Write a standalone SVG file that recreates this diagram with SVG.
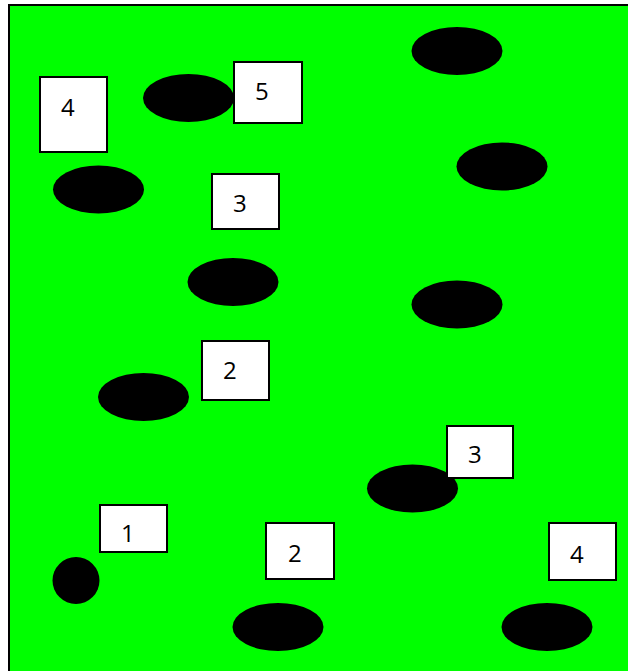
<svg xmlns="http://www.w3.org/2000/svg" width="628" height="671" viewBox="0 0 628 671">
<style>
.bg{fill:#00ff00;stroke:#000;stroke-width:2}
.e{fill:#000}
.b{fill:#fff;stroke:#000;stroke-width:2}
.t{font-family:"Open Sans","DejaVu Sans",sans-serif;font-size:24px;fill:#000}
</style>
<rect class="bg" x="9" y="5" width="630" height="680"/>
<g id="ellipses">
<ellipse id="e1" class="e" cx="457" cy="51" rx="45.5" ry="24"/>
<ellipse id="e2" class="e" cx="188.5" cy="98" rx="45.5" ry="24"/>
<ellipse id="e3" class="e" cx="98.5" cy="189.5" rx="45.5" ry="24"/>
<ellipse id="e4" class="e" cx="502" cy="166.5" rx="45.5" ry="24"/>
<ellipse id="e5" class="e" cx="233" cy="282" rx="45.5" ry="24"/>
<ellipse id="e6" class="e" cx="457" cy="304.5" rx="45.5" ry="24"/>
<ellipse id="e7" class="e" cx="143.5" cy="397" rx="45.5" ry="24"/>
<ellipse id="e8" class="e" cx="412.5" cy="488.5" rx="45.5" ry="24"/>
<circle id="e9" class="e" cx="76" cy="580.5" r="23.5"/>
<ellipse id="e10" class="e" cx="278" cy="627" rx="45.5" ry="24"/>
<ellipse id="e11" class="e" cx="547" cy="627" rx="45.5" ry="24"/>
</g>
<g id="n4a"><rect class="b" x="40" y="77" width="67" height="75"/><text class="t" x="61" y="116">4</text></g>
<g id="n5"><rect class="b" x="234" y="62" width="68" height="61"/><text class="t" x="255" y="100">5</text></g>
<g id="n3a"><rect class="b" x="212" y="174" width="67" height="55"/><text class="t" x="233" y="212">3</text></g>
<g id="n2a"><rect class="b" x="202" y="341" width="67" height="59"/><text class="t" x="223" y="379">2</text></g>
<g id="n3b"><rect class="b" x="447" y="426" width="66" height="52"/><text class="t" x="468" y="463">3</text></g>
<g id="n1"><rect class="b" x="100" y="505" width="67" height="47"/><text class="t" x="121" y="542">1</text></g>
<g id="n2b"><rect class="b" x="266" y="523" width="68" height="56"/><text class="t" x="288" y="562">2</text></g>
<g id="n4b"><rect class="b" x="549" y="523" width="67" height="57"/><text class="t" x="570" y="563">4</text></g>
<g id="connectors"></g>
</svg>
